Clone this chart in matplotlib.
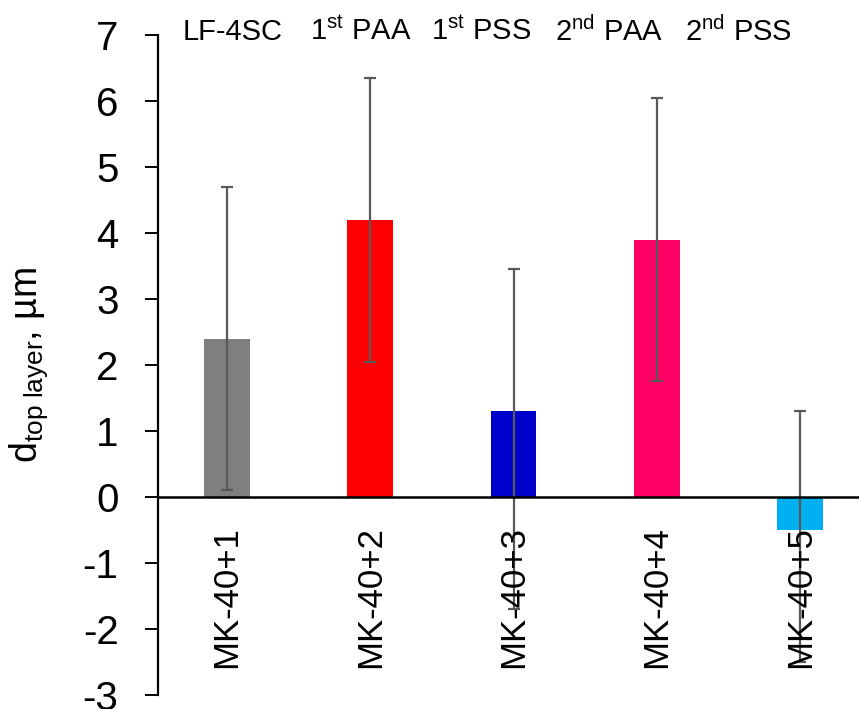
import matplotlib.pyplot as plt
import numpy as np

plt.rcParams['font.family'] = ['Liberation Sans', 'DejaVu Sans']
plt.rcParams['mathtext.fontset'] = 'custom'
plt.rcParams['mathtext.rm'] = 'Liberation Sans'
plt.rcParams['mathtext.it'] = 'Liberation Sans:italic'
plt.rcParams['axes.unicode_minus'] = False

samples = ['MK-40+1', 'MK-40+2', 'MK-40+3', 'MK-40+4', 'MK-40+5']
layers = ['LF-4SC', r'1$^{\mathrm{st}}$ PAA', r'1$^{\mathrm{st}}$ PSS',
          r'2$^{\mathrm{nd}}$ PAA', r'2$^{\mathrm{nd}}$ PSS']
thickness = [2.4, 4.2, 1.3, 3.9, -0.5]
err_up = [2.3, 2.15, 2.15, 2.15, 1.8]
err_down = [2.3, 2.15, 3.0, 2.15, 2.0]
colors = ['#7f7f7f', '#ff0000', '#0000cc', '#ff0066', '#00b0f0']
layer_x = [0.04, 0.935, 1.77, 2.67, 3.57]

fig = plt.figure(figsize=(8.59, 7.09), dpi=100)
ax = fig.add_axes([0.184, 0.0197, 0.816, 0.931])

x = np.arange(len(samples))
ax.bar(x, thickness, width=0.32, color=colors, zorder=2)
ax.errorbar(x, thickness, yerr=[err_down, err_up], fmt='none',
            ecolor='#595959', elinewidth=1.6, capsize=4.3, capthick=1.6, zorder=3)
ax.axhline(0, color='black', lw=1.8, zorder=4)

for xi, s in zip(x, samples):
    ax.text(xi, -1.52, s, rotation=90, ha='center', va='center',
            fontsize=25, zorder=5)
for xi, s in zip(layer_x, layers):
    ax.text(xi, 7.05, s, ha='center', va='center', fontsize=21, clip_on=False)

ax.set_xlim(-0.48, 4.41)
ax.set_ylim(-3, 7)
ax.set_yticks(range(-3, 8))
ax.set_xticks([])
ax.tick_params(axis='y', labelsize=29, length=9.4, width=1.4, pad=19)
for side in ['top', 'right', 'bottom']:
    ax.spines[side].set_visible(False)
ax.spines['left'].set_linewidth(1.6)
ax.set_ylabel(r'd$_{\mathrm{top\ layer}}$, µm', fontsize=27)
ax.yaxis.set_label_coords(-0.154, 0.5)

fig.savefig('out.png', dpi=100)
